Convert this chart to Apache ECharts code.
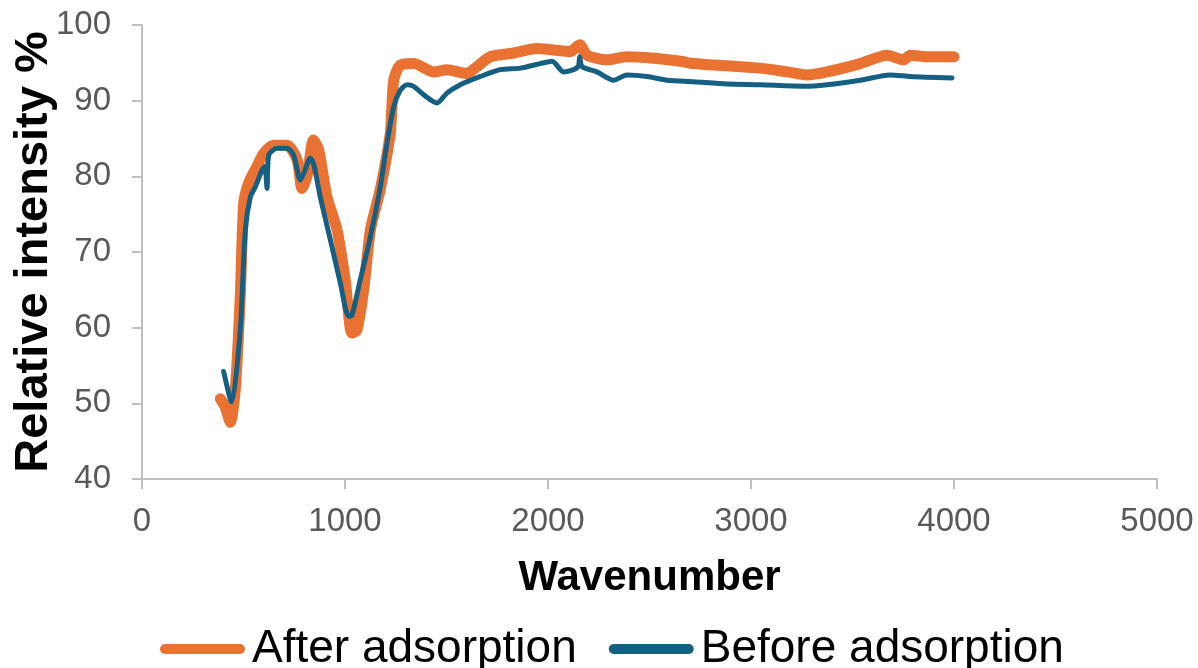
<!DOCTYPE html>
<html>
<head>
<meta charset="utf-8">
<script src="https://cdn.jsdelivr.net/npm/echarts@6/dist/echarts.min.js"></script>
<style>
  html, body { margin: 0; padding: 0; background: #ffffff; }
  #chart { width: 1198px; height: 668px; }
</style>
</head>
<body>
<div id="chart"></div>
<script>
// FTIR spectra: relative intensity (%) against wavenumber, before and after adsorption
const seriesNames = ['After adsorption', 'Before adsorption'];

const afterWavenumber = [386, 410, 435, 460, 484, 501, 525, 566, 599, 648, 714, 764, 788, 813, 845, 870, 911, 961, 1001, 1034, 1059, 1092, 1125, 1174, 1223, 1240, 1273, 1338, 1437, 1502, 1601, 1650, 1716, 1831, 1946, 2028, 2110, 2156, 2192, 2291, 2389, 2520, 2652, 2717, 2882, 3046, 3178, 3276, 3374, 3538, 3670, 3752, 3785, 3867, 4000];
const afterIntensity  = [50.6, 49.5, 47.5, 52.0, 64.1, 76.4, 79.1, 81.3, 83.0, 84.1, 84.1, 82.2, 78.4, 80.0, 84.8, 83.5, 77.3, 72.9, 66.3, 59.3, 59.7, 65.0, 72.9, 78.3, 85.7, 92.7, 94.7, 94.9, 93.8, 94.1, 93.6, 94.5, 95.8, 96.3, 96.9, 96.7, 96.5, 97.4, 96.0, 95.4, 95.8, 95.6, 95.2, 94.9, 94.6, 94.3, 93.8, 93.4, 93.8, 94.9, 96.0, 95.4, 96.0, 95.8, 95.8];

const beforeWavenumber = [402, 435, 443, 484, 509, 534, 558, 591, 605, 616, 624, 665, 714, 747, 780, 800, 829, 845, 878, 928, 977, 1018, 1034, 1075, 1125, 1174, 1207, 1240, 1273, 1305, 1338, 1387, 1453, 1502, 1568, 1667, 1765, 1864, 1962, 2020, 2077, 2126, 2150, 2156, 2168, 2241, 2323, 2389, 2488, 2587, 2717, 2882, 3046, 3259, 3374, 3538, 3686, 3785, 3990];
const beforeIntensity  = [54.2, 50.5, 50.2, 59.7, 72.9, 77.3, 78.6, 80.8, 81.3, 78.4, 82.8, 83.7, 83.7, 82.8, 79.5, 80.6, 82.4, 81.7, 77.3, 71.6, 65.9, 61.5, 61.6, 66.3, 72.0, 78.6, 84.4, 89.2, 91.4, 92.1, 91.9, 90.8, 89.7, 91.0, 92.1, 93.2, 94.1, 94.3, 94.9, 95.2, 93.8, 94.1, 94.6, 95.8, 94.5, 93.8, 92.7, 93.4, 93.2, 92.7, 92.5, 92.2, 92.1, 91.9, 92.1, 92.7, 93.4, 93.2, 93.0];

const xTicks = { min: 0, max: 5000, step: 1000 };
const yTicks = { min: 40, max: 100, step: 10 };

const colors = ['#E97132', '#156082'];
const fontFamily = '"Liberation Sans", Arial, Helvetica, sans-serif';

function pairs(xs, ys) {
  return xs.map((x, i) => [x, ys[i]]);
}

// capsule-shaped legend key with rounded ends
const capsule = 'path://M5,0 L80,0 A5,5 0 0 1 80,10 L5,10 A5,5 0 0 1 5,0 Z';

const axisLine = { show: true, lineStyle: { color: '#BFBFBF', width: 2 } };
const axisTick = { show: true, length: 10, lineStyle: { color: '#BFBFBF', width: 2 } };

const chart = echarts.init(document.getElementById('chart'), null, { renderer: 'canvas' });
chart.setOption({
  animation: false,
  backgroundColor: '#ffffff',
  grid: { left: 142, right: 41, top: 25, bottom: 189, containLabel: false, outerBoundsMode: 'none' },
  legend: {
    data: seriesNames.map((n, i) => ({ name: n, icon: capsule, itemStyle: { color: colors[i] } })),
    left: 155,
    top: 621,
    itemWidth: 85,
    itemHeight: 10,
    itemGap: 32,
    textStyle: { fontFamily, fontSize: 46, color: '#000000', padding: [0, 0, 0, 2] }
  },
  xAxis: {
    type: 'value',
    min: xTicks.min,
    max: xTicks.max,
    interval: xTicks.step,
    name: 'Wavenumber',
    nameLocation: 'middle',
    nameGap: 78,
    nameMoveOverlap: false,
    nameTextStyle: { fontFamily, fontSize: 42, fontWeight: 'bold', color: '#000000' },
    axisLine, axisTick,
    splitLine: { show: false },
    axisLabel: { fontFamily, fontSize: 33, color: '#595959', margin: 26, formatter: v => String(v) }
  },
  yAxis: {
    type: 'value',
    min: yTicks.min,
    max: yTicks.max,
    interval: yTicks.step,
    name: 'Relative intensity %',
    nameLocation: 'middle',
    nameRotate: 90,
    nameGap: 84,
    nameMoveOverlap: false,
    nameTextStyle: { fontFamily, fontSize: 47, fontWeight: 'bold', color: '#000000' },
    axisLine, axisTick,
    splitLine: { show: false },
    axisLabel: { fontFamily, fontSize: 33, color: '#595959', margin: 31, formatter: v => String(v) }
  },
  series: [
    {
      name: seriesNames[0],
      type: 'line',
      data: pairs(afterWavenumber, afterIntensity),
      showSymbol: false,
      symbol: 'none',
      smooth: 0.25,
      lineStyle: { color: colors[0], width: 11, cap: 'round', join: 'round' },
      itemStyle: { color: colors[0] },
      z: 2
    },
    {
      name: seriesNames[1],
      type: 'line',
      data: pairs(beforeWavenumber, beforeIntensity),
      showSymbol: false,
      symbol: 'none',
      smooth: 0.25,
      lineStyle: { color: colors[1], width: 5, cap: 'round', join: 'round' },
      itemStyle: { color: colors[1] },
      z: 3
    }
  ]
});
</script>
</body>
</html>
